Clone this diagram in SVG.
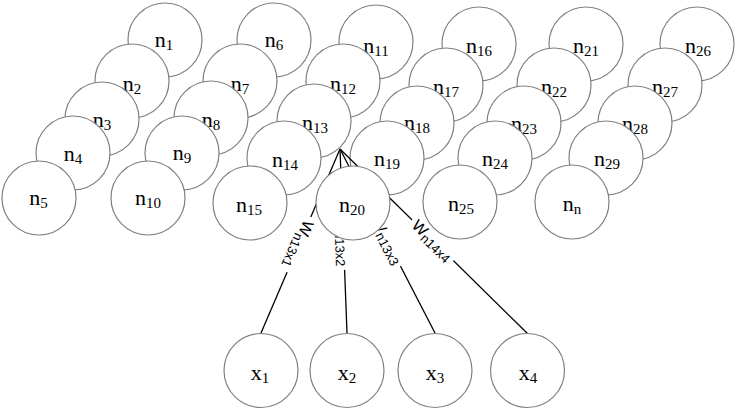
<svg xmlns="http://www.w3.org/2000/svg" width="737" height="411" viewBox="0 0 737 411">
<style>
.c{fill:#fff;stroke:#808080;stroke-width:1.2}
.t{font-family:"Liberation Serif","Times New Roman",serif;font-size:22px;fill:#000;text-anchor:middle}
.s{font-size:15px}
.e{stroke:#000;stroke-width:1.3;fill:none}
.lb{fill:#fff;stroke:none}
.l{font-family:"Liberation Sans",Arial,sans-serif;font-size:16px;fill:#000;text-anchor:middle}
.ls{font-size:13px}
</style>
<rect width="737" height="411" fill="#fff"/>
<g id="n1"><circle class="c" cx="165" cy="40" r="37"/><text class="t" x="164" y="47">n<tspan class="s" dy="3">1</tspan></text></g>
<g id="n2"><circle class="c" cx="132" cy="81" r="37"/><text class="t" x="132" y="91">n<tspan class="s" dy="3">2</tspan></text></g>
<g id="n3"><circle class="c" cx="102" cy="119" r="37"/><text class="t" x="102" y="127">n<tspan class="s" dy="3">3</tspan></text></g>
<g id="n4"><circle class="c" cx="73" cy="153" r="37"/><text class="t" x="73" y="161">n<tspan class="s" dy="3">4</tspan></text></g>
<g id="n5"><circle class="c" cx="39" cy="198" r="37"/><text class="t" x="38.5" y="205">n<tspan class="s" dy="3">5</tspan></text></g>
<g id="n6"><circle class="c" cx="274" cy="40" r="37"/><text class="t" x="274" y="47">n<tspan class="s" dy="3">6</tspan></text></g>
<g id="n7"><circle class="c" cx="240" cy="81" r="37"/><text class="t" x="240" y="91">n<tspan class="s" dy="3">7</tspan></text></g>
<g id="n8"><circle class="c" cx="211" cy="118" r="37"/><text class="t" x="211" y="127">n<tspan class="s" dy="3">8</tspan></text></g>
<g id="n9"><circle class="c" cx="182" cy="153" r="37"/><text class="t" x="182" y="160">n<tspan class="s" dy="3">9</tspan></text></g>
<g id="n10"><circle class="c" cx="148" cy="198" r="37"/><text class="t" x="148" y="205">n<tspan class="s" dy="3">10</tspan></text></g>
<g id="n11"><circle class="c" cx="376" cy="42" r="37"/><text class="t" x="376" y="53">n<tspan class="s" dy="3">11</tspan></text></g>
<g id="n12"><circle class="c" cx="343" cy="81" r="37"/><text class="t" x="343" y="91">n<tspan class="s" dy="3">12</tspan></text></g>
<g id="n13"><circle class="c" cx="314" cy="121" r="37"/><text class="t" x="315" y="130">n<tspan class="s" dy="3">13</tspan></text></g>
<g id="n14"><circle class="c" cx="284" cy="158" r="37"/><text class="t" x="285" y="167">n<tspan class="s" dy="3">14</tspan></text></g>
<g id="n15"><circle class="c" cx="250" cy="203" r="37"/><text class="t" x="249" y="212">n<tspan class="s" dy="3">15</tspan></text></g>
<g id="n16"><circle class="c" cx="479" cy="44" r="37"/><text class="t" x="479" y="53">n<tspan class="s" dy="3">16</tspan></text></g>
<g id="n17"><circle class="c" cx="446" cy="85" r="37"/><text class="t" x="446" y="94">n<tspan class="s" dy="3">17</tspan></text></g>
<g id="n18"><circle class="c" cx="417" cy="123" r="37"/><text class="t" x="417" y="130">n<tspan class="s" dy="3">18</tspan></text></g>
<g id="n19"><circle class="c" cx="387" cy="158" r="37"/><text class="t" x="387" y="166">n<tspan class="s" dy="3">19</tspan></text></g>
<g id="n21"><circle class="c" cx="586" cy="44" r="37"/><text class="t" x="586" y="53">n<tspan class="s" dy="3">21</tspan></text></g>
<g id="n22"><circle class="c" cx="554" cy="85" r="37"/><text class="t" x="554" y="94">n<tspan class="s" dy="3">22</tspan></text></g>
<g id="n23"><circle class="c" cx="524" cy="123" r="37"/><text class="t" x="524" y="131">n<tspan class="s" dy="3">23</tspan></text></g>
<g id="n24"><circle class="c" cx="495" cy="158" r="37"/><text class="t" x="495" y="166">n<tspan class="s" dy="3">24</tspan></text></g>
<g id="n25"><circle class="c" cx="460" cy="202" r="37"/><text class="t" x="461" y="211">n<tspan class="s" dy="3">25</tspan></text></g>
<g id="n26"><circle class="c" cx="697" cy="44" r="37"/><text class="t" x="698" y="53">n<tspan class="s" dy="3">26</tspan></text></g>
<g id="n27"><circle class="c" cx="665" cy="85" r="37"/><text class="t" x="665" y="94">n<tspan class="s" dy="3">27</tspan></text></g>
<g id="n28"><circle class="c" cx="635" cy="123" r="37"/><text class="t" x="635" y="131">n<tspan class="s" dy="3">28</tspan></text></g>
<g id="n29"><circle class="c" cx="606" cy="158" r="37"/><text class="t" x="607" y="166">n<tspan class="s" dy="3">29</tspan></text></g>
<g id="nn"><circle class="c" cx="572" cy="202" r="37"/><text class="t" x="572" y="211">n<tspan class="s" dy="3">n</tspan></text></g>
<g id="connectors">
<line class="e" x1="340" y1="149" x2="261" y2="333"/>
<line class="e" x1="340" y1="149" x2="347" y2="333"/>
<line class="e" x1="340" y1="149" x2="435" y2="333"/>
<line class="e" x1="340" y1="149" x2="528" y2="334"/>
<g transform="translate(299,244.6) rotate(113.2)"><rect class="lb" x="-30" y="-7" width="60" height="17"/><text class="l" x="0" y="5.5">W<tspan class="ls" dy="3">n13x1</tspan></text></g>
<g transform="translate(343.5,241) rotate(87.8)"><rect class="lb" x="-29" y="-7" width="58" height="17"/><text class="l" x="0" y="5.5">W<tspan class="ls" dy="3">n13x2</tspan></text></g>
<g transform="translate(387.2,240.5) rotate(62.7)"><rect class="lb" x="-29" y="-7" width="58" height="17"/><text class="l" x="0" y="5.5">W<tspan class="ls" dy="3">n13x3</tspan></text></g>
<g transform="translate(432.7,240.2) rotate(44.5)"><rect class="lb" x="-29" y="-7" width="58" height="17"/><text class="l" x="0" y="5.5">W<tspan class="ls" dy="3">n14x4</tspan></text></g>
</g>
<g id="n20"><circle class="c" cx="353" cy="203" r="37"/><text class="t" x="352" y="212">n<tspan class="s" dy="3">20</tspan></text></g>
<g id="x1"><circle class="c" cx="261" cy="370.5" r="37"/><text class="t" x="260" y="380">x<tspan class="s" dy="3">1</tspan></text></g>
<g id="x2"><circle class="c" cx="347" cy="370.5" r="37"/><text class="t" x="347" y="380">x<tspan class="s" dy="3">2</tspan></text></g>
<g id="x3"><circle class="c" cx="435" cy="370.5" r="37"/><text class="t" x="435" y="380">x<tspan class="s" dy="3">3</tspan></text></g>
<g id="x4"><circle class="c" cx="527.5" cy="370.5" r="37"/><text class="t" x="528" y="380">x<tspan class="s" dy="3">4</tspan></text></g>
</svg>
